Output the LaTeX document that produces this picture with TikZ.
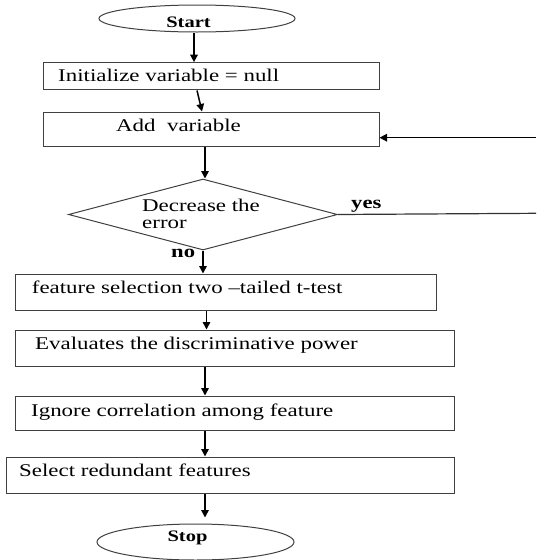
\documentclass[tikz,border=0pt]{standalone}
\usepackage{fontspec}
\setmainfont{Liberation Serif}[FakeStretch=1.28]
\usetikzlibrary{shapes.geometric,arrows.meta}
\begin{document}
\begin{tikzpicture}[x=1pt,y=-1pt,
  boxline/.style={draw=black!75,line width=1pt},
  procbox/.style={boxline,rectangle,inner sep=0pt},
  termbox/.style={boxline,ellipse,inner sep=0pt},
  decbox/.style={boxline,diamond,inner sep=0pt},
  txt/.style={anchor=base west,inner sep=0pt,font=\fontsize{17.9pt}{20pt}\selectfont},
  btxt/.style={anchor=base west,inner sep=0pt,font=\fontsize{17.7pt}{20pt}\selectfont\bfseries},
  ttxt/.style={anchor=base,inner sep=0pt,font=\fontsize{16pt}{18pt}\selectfont\bfseries},
  arr/.style={-{Triangle[length=7.5pt,width=7.5pt]},line width=1.5pt,black},
  plain/.style={line width=1.2pt,black!80}]
\useasboundingbox (0,0) rectangle (536,560);
% shapes
\node[termbox,minimum width=196pt,minimum height=27pt] (start) at (197,18.5) {};
\node[procbox,minimum width=336pt,minimum height=27.3pt] (init) at (211,76.3) {};
\node[procbox,minimum width=336pt,minimum height=34pt] (add) at (211,129) {};
\node[decbox,minimum width=269pt,minimum height=71pt] (dec) at (203,214.5) {};
\node[procbox,minimum width=421pt,minimum height=36pt] (feat) at (225.5,292) {};
\node[procbox,minimum width=439pt,minimum height=36pt] (eval) at (234.5,348) {};
\node[procbox,minimum width=439pt,minimum height=34pt] (ign) at (234.5,413) {};
\node[procbox,minimum width=448pt,minimum height=36pt] (sel) at (230,475) {};
\node[termbox,minimum width=197pt,minimum height=36pt] (stop) at (195.5,542) {};
% texts
\node[ttxt] (startt) at (188.5,27.7) {Start};
\node[txt] (initt) at (58,81) {Initialize variable = null};
\node[txt] (addt) at (116,131) {Add\ \ variable};
\node[txt] (dect1) at (142,211.7) {Decrease the};
\node[txt] (dect2) at (142,228) {error};
\node[btxt] (yes) at (351,208) {yes};
\node[btxt] (no) at (171,257.3) {no};
\node[txt] (featt) at (31.7,293.3) {feature selection two –tailed t-test};
\node[txt] (evalt) at (35,349) {Evaluates the discriminative power};
\node[txt] (ignt) at (31,416.5) {Ignore correlation among feature};
\node[txt] (selt) at (19,476.5) {Select redundant features};
\node[ttxt] (stopt) at (187.5,541.7) {Stop};
% edge coordinates for the loop back
\coordinate (fb1) at (536,213.3);
\coordinate (fb2) at (536,137.7);
% connectors
\draw[arr] ([xshift=-3pt]start.south) -- ([xshift=-3pt]start.south |- init.north);
\draw[arr] ([xshift=-14pt]init.south) -- ([xshift=-9pt]add.north);
\draw[arr] ([xshift=-6pt]add.south) -- ([xshift=-6pt]add.south |- dec.north);
\draw[arr] (dec.south) -- (dec.south |- feat.north);
\draw[arr] ([xshift=-19pt]feat.south) -- ([xshift=-19pt]feat.south |- eval.north);
\draw[arr] ([xshift=-29.5pt]eval.south) -- ([xshift=-29.5pt]eval.south |- ign.north);
\draw[arr] ([xshift=-29.5pt]ign.south) -- ([xshift=-29.5pt]ign.south |- sel.north);
\draw[arr,shorten >=6pt] ([xshift=-25pt]sel.south) -- ([xshift=-25pt]sel.south |- stop.north);
\draw[plain] (dec.east) -- (fb1);
\draw[arr] (fb2) -- (fb2 -| add.east);
\end{tikzpicture}
\end{document}
